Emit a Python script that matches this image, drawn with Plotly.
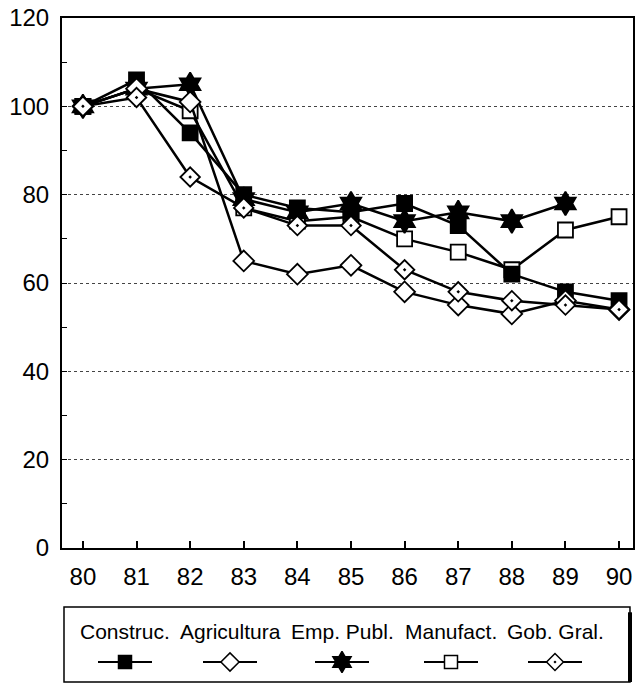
import plotly.graph_objects as go

# datos (índice, 1980 = 100)
years = [80, 81, 82, 83, 84, 85, 86, 87, 88, 89, 90]
construc = [100, 106, 94, 80, 77, 76, 78, 73, 62, 58, 56]
agricultura = [100, 104, 101, 65, 62, 64, 58, 55, 53, 56, 54]
emp_publ = [100, 104, 105, 79, 76, 78, 74, 76, 74, 78, None]
manufact = [100, 104, 99, 77, 74, 75, 70, 67, 63, 72, 75]
gob_gral = [100, 102, 84, 77, 73, 73, 63, 58, 56, 55, 54]

y_ticks = [0, 20, 40, 60, 80, 100, 120]

FONT = "Arial, Liberation Sans, sans-serif"

series = [
    # nombre, valores, símbolo, relleno, tamaño, centro en la leyenda (px)
    ("Manufact.", manufact, "square", "white", 15, 451),
    ("Construc.", construc, "square", "black", 15, 125),
    ("Emp. Publ.", emp_publ, "hexagram", "black", 18, 342),
    ("Agricultura", agricultura, "diamond", "white", 16, 230),
    ("Gob. Gral.", gob_gral, "diamond-dot", "white", 15, 555),
]

fig = go.Figure()

for name, vals, sym, fill, size, lx in series:
    fig.add_trace(go.Scatter(
        x=years, y=vals, mode="lines+markers", name=name,
        line=dict(color="black", width=2.5),
        marker=dict(symbol=sym, color=fill, size=size,
                    line=dict(color="black", width=1.8)),
        connectgaps=False, showlegend=False,
    ))
    # muestra de leyenda (ejes auxiliares en px): línea y símbolo
    fig.add_trace(go.Scatter(
        x=[lx - 27, lx + 27], y=[662, 662], mode="lines",
        line=dict(color="black", width=1.8),
        xaxis="x2", yaxis="y2", showlegend=False, hoverinfo="skip",
    ))
    fig.add_trace(go.Scatter(
        x=[lx], y=[662], mode="markers",
        marker=dict(symbol=sym, color=fill, size=size - 2, opacity=1,
                    line=dict(color="black", width=1.5)),
        xaxis="x2", yaxis="y2", showlegend=False, hoverinfo="skip",
    ))
    fig.add_annotation(x=lx, y=632, xref="x2", yref="y2", text=name,
                       showarrow=False, font=dict(size=21, color="black", family=FONT))

fig.update_layout(
    width=635, height=686,
    margin=dict(l=62, r=2, t=18, b=4),
    paper_bgcolor="white", plot_bgcolor="white",
    font=dict(family=FONT, color="black"),
    xaxis=dict(
        range=[79.61, 90.26], tickmode="array", tickvals=years,
        ticks="inside", ticklen=7, tickwidth=1.5, tickcolor="black",
        showgrid=False, zeroline=False, automargin=False,
        showline=True, linecolor="black", linewidth=2, mirror=True,
        tickfont=dict(size=24), ticklabelstandoff=6, ticklabeloverflow="allow",
        anchor="y", domain=[0, 1],
    ),
    yaxis=dict(
        range=[0, 120], tickmode="array", tickvals=y_ticks,
        ticks="inside", ticklen=5, tickcolor="black", automargin=False,
        minor=dict(ticks="inside", ticklen=5, dtick=10, tickcolor="black", showgrid=False),
        showgrid=True, gridcolor="#444", griddash="dot", gridwidth=1,
        zeroline=False, showline=True, linecolor="black", linewidth=2, mirror=True,
        tickfont=dict(size=24), ticklabelstandoff=6, ticklabeloverflow="allow",
        domain=[0.2018, 1],
    ),
    xaxis2=dict(range=[62, 633], domain=[0, 1], anchor="y2", visible=False, fixedrange=True),
    yaxis2=dict(range=[682, 607], domain=[0, 0.113], anchor="x2", visible=False, fixedrange=True),
    shapes=[
        dict(type="rect", xref="paper", yref="paper", x0=0.0035, x1=0.9947, y0=0.0, y1=0.113,
             line=dict(color="black", width=1.5), fillcolor="rgba(0,0,0,0)"),
        dict(type="line", xref="paper", yref="paper", x0=0.9947, x1=0.9947, y0=0.0, y1=0.105,
             line=dict(color="black", width=4)),
    ],
)

# sin margen del <body>, para que la figura ocupe la ventana exacta
fig.write_html("out.html", config={"displayModeBar": False},
               post_script="document.body.style.margin='0';document.body.style.overflow='hidden';")
